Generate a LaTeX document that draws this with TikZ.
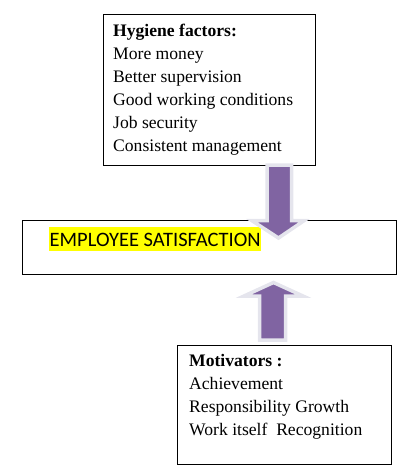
\documentclass[tikz,border=0pt]{standalone}
\usepackage{fontspec}
\setmainfont{Liberation Serif}
\newfontfamily\calibrifont{Carlito}
\usetikzlibrary{calc}
\definecolor{ArrowClr}{rgb}{0.502,0.392,0.635}
\definecolor{RimClr}{rgb}{0.9,0.9,0.93}
\definecolor{MarkClr}{rgb}{1,1,0}

\begin{document}
\begin{tikzpicture}[x=1pt,y=-1pt,
  factorbox/.style={draw=black,line width=1pt,rectangle,inner sep=0pt,anchor=north west},
  factorlist/.style={align=left,inner sep=0pt,anchor=north west,font=\fontsize{17.6}{23}\selectfont},
  blockarrow/.style={fill=ArrowClr,draw=RimClr,line width=3.5pt,line join=miter}]
\useasboundingbox (0,0) rectangle (418,473);

% boxes
\node[factorbox,minimum width=212,minimum height=151] (hyg) at (103,14) {};
\node[factorbox,minimum width=374,minimum height=54] (sat) at (22,220) {};
\node[factorbox,minimum width=214,minimum height=119] (mot) at (177,345) {};

% texts
\node[factorlist] (hygtext) at ($(hyg.north west)+(10,10)$)
  {\textbf{Hygiene factors:}\\More money\\Better supervision\\Good working conditions\\Job security\\Consistent management};
\node[fill=MarkClr,inner xsep=0.5pt,inner ysep=0pt,text height=19pt,text depth=5pt,anchor=base west,
  font=\calibrifont\fontsize{20.5}{24}\selectfont] (sattext) at ($(sat.north west)+(27,26)$) {EMPLOYEE SATISFACTION};
\node[factorlist] (mottext) at ($(mot.north west)+(12,9)$)
  {\textbf{Motivators :}\\Achievement\\Responsibility Growth\\Work itself\ \ Recognition};

% arrows
\draw[blockarrow] (267,165) -- (291.5,165) -- (291.5,220.7) -- (304,220.7) -- (278.5,238)
  -- (252,220.7) -- (267,220.7) -- cycle;
\draw[blockarrow] (259.5,340) -- (285.7,340) -- (285.7,296) -- (303,296) -- (273.5,282.5)
  -- (244,296) -- (259.5,296) -- cycle;

\end{tikzpicture}
\end{document}
